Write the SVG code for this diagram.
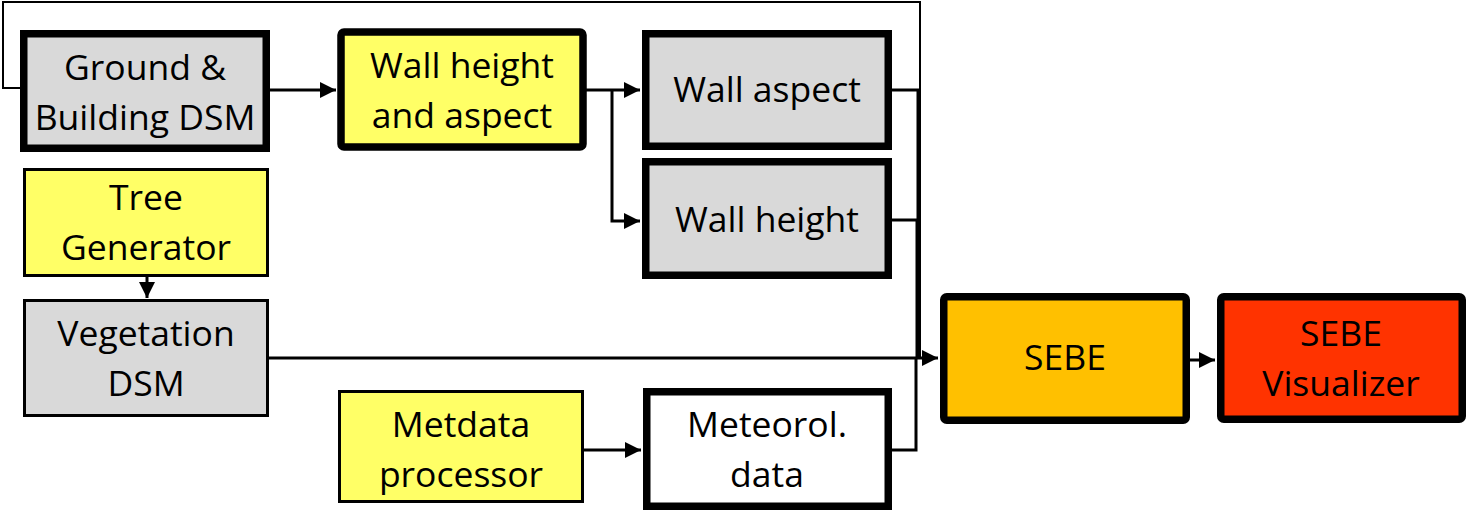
<svg xmlns="http://www.w3.org/2000/svg" width="1467" height="511" viewBox="0 0 1467 511">
<defs>
<style>
.thick{stroke:#000;stroke-width:7.5}
.thin{stroke:#000;stroke-width:3}
.gray{fill:#d9d9d9}
.yel{fill:#ffff66}
.wht{fill:#fff}
.org{fill:#ffc000}
.red{fill:#ff3300}
text{font-family:"Open Sans","Liberation Sans",sans-serif;font-size:35.5px;fill:#000;text-anchor:middle}
.ln{fill:none;stroke:#000;stroke-width:3}
.ln2{fill:none;stroke:#000;stroke-width:2}
</style>
<marker id="ah" viewBox="0 0 10 10" refX="10" refY="5" markerWidth="5.5" markerHeight="5.5" markerUnits="strokeWidth" orient="auto">
<path d="M0,0 L10,5 L0,10 z" fill="#000"/>
</marker>
</defs>
<rect width="1467" height="511" fill="#fff"/>
<g id="connectors">
<path class="ln2" d="M22,88 H3 V2 H920 V358"/>
<path class="ln" d="M270,90 H336" marker-end="url(#ah)"/>
<path class="ln" d="M586,90 H640" marker-end="url(#ah)"/>
<path class="ln" d="M612,90 V221 H640" marker-end="url(#ah)"/>
<path class="ln" d="M892,90 H918 V358"/>
<path class="ln" d="M892,220 H917 V358"/>
<path class="ln" d="M892,450 H916 V358"/>
<path class="ln" d="M269,358 H938" marker-end="url(#ah)"/>
<path class="ln" d="M147,277 V298" marker-end="url(#ah)"/>
<path class="ln" d="M583,450 H641" marker-end="url(#ah)"/>
<path class="ln" d="M1190,360 H1215" marker-end="url(#ah)"/>
</g>
<g id="ground">
<rect class="thick gray" x="23.75" y="33.75" width="242.5" height="114.5"/>
<text x="145" y="80">Ground &amp;</text>
<text x="145" y="130">Building DSM</text>
</g>
<g id="wallha">
<rect class="thick yel" x="341" y="32" width="242" height="115" rx="3"/>
<text x="462" y="78">Wall height</text>
<text x="462" y="128">and aspect</text>
</g>
<g id="wallaspect">
<rect class="thick gray" x="645.75" y="33.75" width="242.5" height="112.5"/>
<text x="767" y="102">Wall aspect</text>
</g>
<g id="wallheight">
<rect class="thick gray" x="645.75" y="161.75" width="242.5" height="113.5"/>
<text x="767" y="232">Wall height</text>
</g>
<g id="tree">
<rect class="thin yel" x="24.5" y="169.5" width="243" height="106"/>
<text x="146" y="210">Tree</text>
<text x="146" y="260">Generator</text>
</g>
<g id="veg">
<rect class="thin gray" x="24.5" y="300.5" width="243" height="115"/>
<text x="146" y="346">Vegetation</text>
<text x="146" y="396">DSM</text>
</g>
<g id="metproc">
<rect class="thin yel" x="339.5" y="391.5" width="243" height="110"/>
<text x="461" y="437">Metdata</text>
<text x="461" y="487">processor</text>
</g>
<g id="metdata">
<rect class="thick wht" x="646.75" y="391.75" width="241.5" height="114.5"/>
<text x="767" y="437">Meteorol.</text>
<text x="767" y="487">data</text>
</g>
<g id="sebe">
<rect class="thick org" x="943.75" y="296.75" width="242.5" height="123.5" rx="3"/>
<text x="1065" y="370">SEBE</text>
</g>
<g id="sebevis">
<rect class="thick red" x="1220.75" y="296.75" width="241.5" height="122.5" rx="3"/>
<text x="1341" y="346">SEBE</text>
<text x="1341" y="396">Visualizer</text>
</g>
</svg>
